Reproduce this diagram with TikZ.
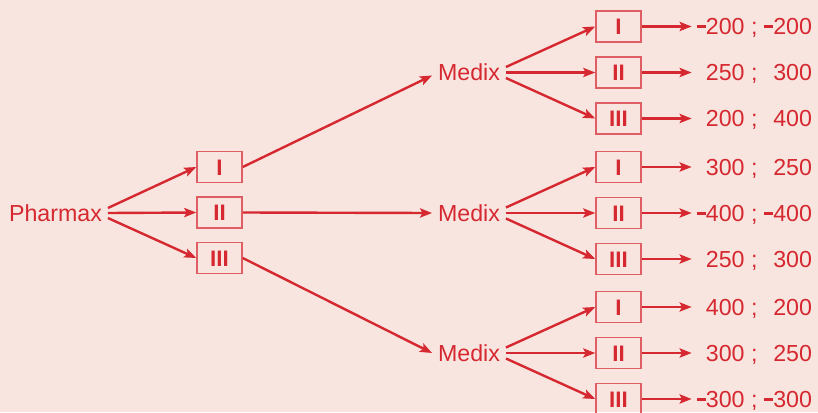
\documentclass[tikz,border=0pt]{standalone}
\usepackage{fontspec}
\setmainfont{Liberation Sans}
\usetikzlibrary{arrows.meta,calc}
\definecolor{bg}{RGB}{249,229,223}
\definecolor{rd}{RGB}{213,40,48}
\newcommand\mn{\rule[3.3pt]{4.6pt}{1.4pt}}
\newcommand\pay[2]{\makebox[2.07em][r]{#1} ; \makebox[2.07em][r]{#2}}
\begin{document}
\begin{tikzpicture}[x=0.5pt,y=-0.5pt,
  lbl/.style={text=rd,inner sep=0pt,text height=8.3pt,text depth=0pt,font=\fontsize{11.6pt}{14pt}\selectfont},
  choice/.style={lbl,draw=rd!75,line width=0.75pt,minimum width=22.5pt,minimum height=15.5pt,font=\fontsize{11.2pt}{14pt}\selectfont\bfseries},
  arr/.style={draw=rd,line width=1.2pt,-{Stealth[length=6pt,width=4.6pt,inset=1.2pt]}}]
\fill [bg] (0,0) rectangle (818,412);
\useasboundingbox (0,0) rectangle (818,412);
\node [lbl,outer xsep=3pt] (pharmax) at (55.5,213) {Pharmax};
\foreach \k/\r in {1/I,2/II,3/III} {
  \node [choice] (a\k) at (219.5,121.5+45.5*\k) {\r};
  \draw [arr] ($(pharmax.east)+(0,5*\k-10)$) -- (a\k.west);
}
\foreach \g/\y in {1/72.5,2/213,3/353} {
  \node [lbl,outer xsep=3pt] (m\g) at (469,\y) {Medix};
}
\draw [arr] (a1.east) -- ($(m1.west)+(0,3)$);
\draw [arr] (a2.east) -- (m2.west);
\draw [arr] (a3.east) -- (m3.west);
\foreach \g/\k/\r/\p/\q in {1/1/I/\mn200/\mn200,1/2/II/250/300,1/3/III/200/400,
  2/1/I/300/250,2/2/II/\mn400/\mn400,2/3/III/250/300,
  3/1/I/400/200,3/2/II/300/250,3/3/III/\mn300/\mn300} {
  \node [choice] (b\g\k) at ($(m\g)+(149.5,46*\k-92)$) {\r};
  \node [lbl,anchor=east,outer xsep=2.5pt] (v\g\k) at ($(b\g\k)+(198.5,0)$) {\pay{\p}{\q}};
  \draw [arr] ($(m\g.east)+(0,5.5*\k-11)$) -- (b\g\k.west);
  \draw [arr] (b\g\k.east) -- (v\g\k.west);
}
\end{tikzpicture}
\end{document}
